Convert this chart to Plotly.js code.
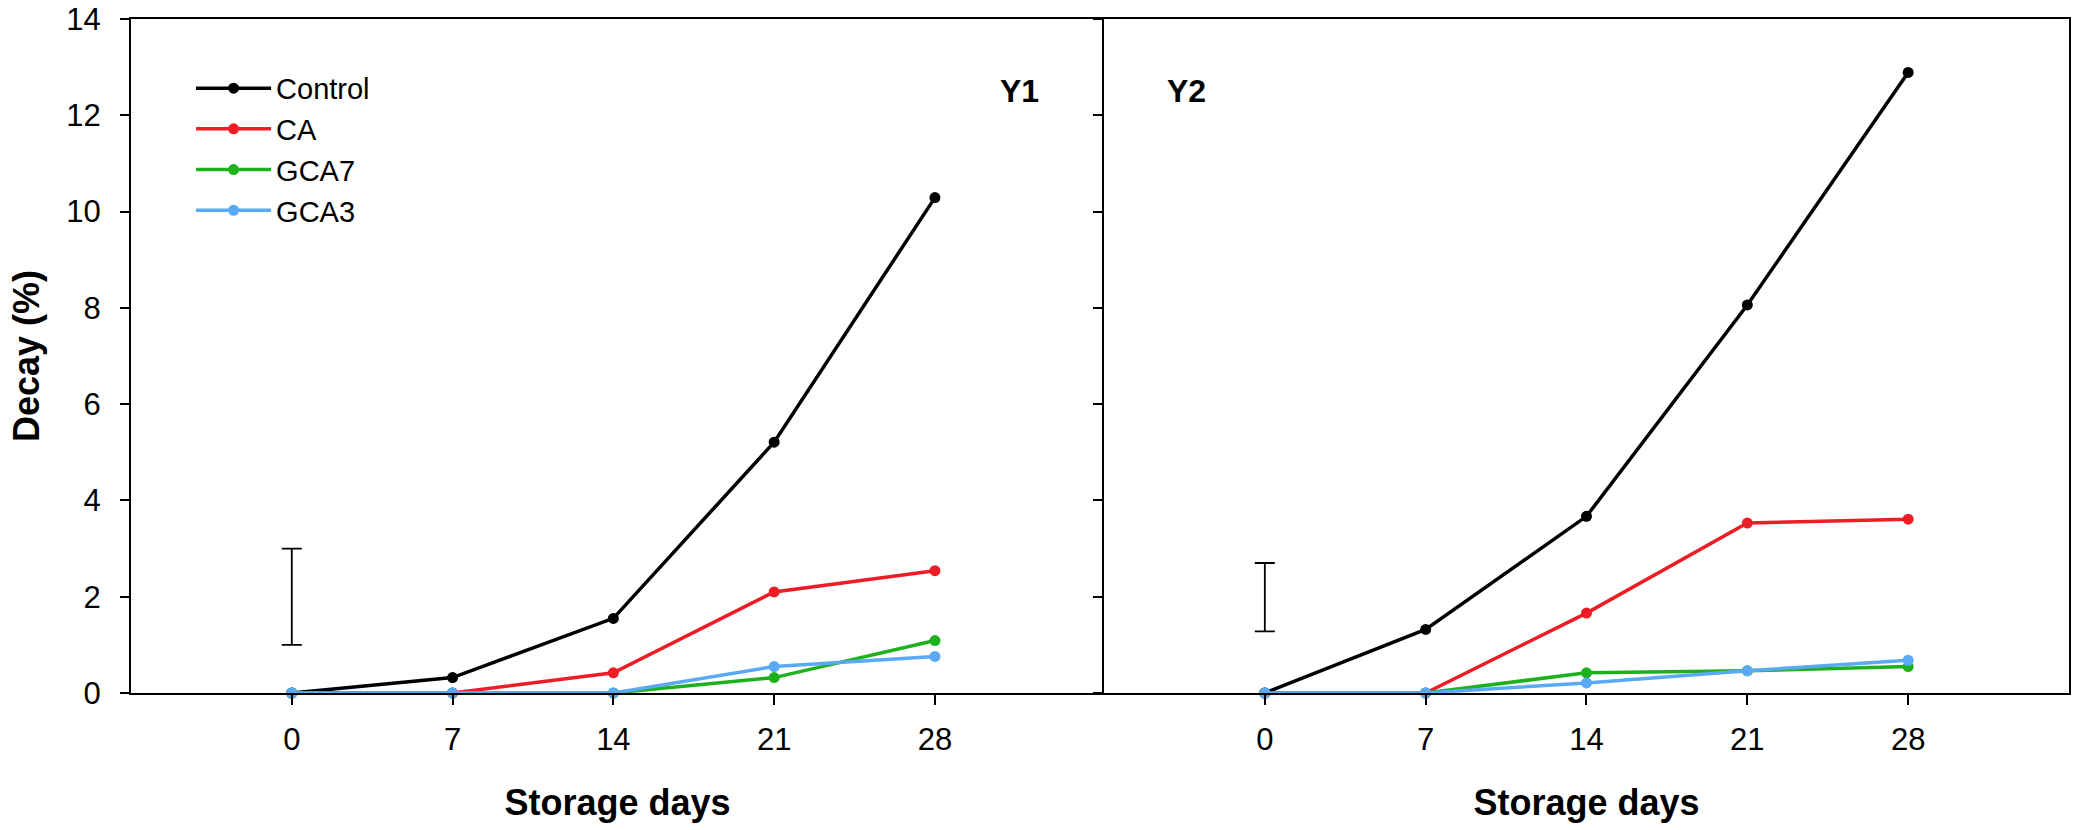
<!DOCTYPE html>
<html>
<head>
<meta charset="utf-8">
<script src="https://cdn.plot.ly/plotly-3.0.1.min.js"></script>
<style>
  html, body { margin: 0; padding: 0; background: #ffffff; }
  #chart { width: 2078px; height: 830px; }
</style>
</head>
<body>
<div id="chart"></div>
<script>
// ---- data ----
const days = [0, 7, 14, 21, 28];
const seriesNames = ["Control", "CA", "GCA7", "GCA3"];
const seriesColors = ["#000000", "#ee1c24", "#1db21d", "#5aa9f4"];

// Y1
const y1Control = [0, 0.32, 1.55, 5.21, 10.29];
const y1CA = [0, 0, 0.42, 2.10, 2.54];
const y1GCA7 = [0, 0, 0, 0.32, 1.09];
const y1GCA3 = [0, 0, 0, 0.55, 0.76];

// Y2
const y2Control = [0, 1.32, 3.67, 8.06, 12.89];
const y2CA = [0, 0, 1.66, 3.53, 3.61];
const y2GCA7 = [0, 0, 0.42, 0.46, 0.55];
const y2GCA3 = [0, 0, 0.21, 0.46, 0.68];

// LSD bars drawn at day 0
const lsdX = [0];
const y1LsdMid = [2.0];
const y1LsdHalf = [1.0];
const y2LsdMid = [1.99];
const y2LsdHalf = [0.71];

const yTicks = [0, 2, 4, 6, 8, 10, 12, 14];

// ---- traces ----
function line(x, y, i, xa, ya, legend) {
  return {
    type: "scatter",
    mode: "lines+markers",
    name: seriesNames[i],
    x: x,
    y: y,
    xaxis: xa,
    yaxis: ya,
    line: { color: seriesColors[i], width: 3.5 },
    marker: { color: seriesColors[i], size: 11 },
    showlegend: legend,
    cliponaxis: false
  };
}

function lsd(mid, half, xa, ya) {
  return {
    type: "scatter",
    mode: "markers",
    x: lsdX,
    y: mid,
    xaxis: xa,
    yaxis: ya,
    marker: { size: 1, opacity: 0 },
    error_y: { type: "data", array: half, visible: true, color: "#000000", thickness: 1.8, width: 10 },
    showlegend: false,
    hoverinfo: "skip"
  };
}

const y1Data = [y1Control, y1CA, y1GCA7, y1GCA3];
const y2Data = [y2Control, y2CA, y2GCA7, y2GCA3];

const traces = [lsd(y1LsdMid, y1LsdHalf, "x", "y"), lsd(y2LsdMid, y2LsdHalf, "x2", "y2")];
y1Data.forEach((y, i) => traces.push(line(days, y, i, "x", "y", true)));
y2Data.forEach((y, i) => traces.push(line(days, y, i, "x2", "y2", false)));

// ---- layout ----
const fam = "Liberation Sans, Arial, sans-serif";
const tickFont = { family: fam, size: 31, color: "#000000" };
const titleFont = { family: fam, size: 36, color: "#000000", weight: "bold" };

const xBase = {
  range: [-7, 35],
  tickvals: days,
  ticks: "outside",
  ticklen: 10,
  tickwidth: 2,
  tickcolor: "#000000",
  ticklabelstandoff: 8,
  showline: true,
  linecolor: "#000000",
  linewidth: 2,
  mirror: true,
  showgrid: false,
  zeroline: false,
  tickfont: tickFont,
  title: { text: "<b>Storage days</b>", font: titleFont, standoff: 34 }
};

const yBase = {
  range: [0, 14],
  tickvals: yTicks,
  ticks: "outside",
  ticklen: 9,
  tickwidth: 2,
  tickcolor: "#000000",
  showline: true,
  linecolor: "#000000",
  linewidth: 2,
  showgrid: false,
  zeroline: false,
  tickfont: tickFont
};

const layout = {
  width: 2078,
  height: 830,
  margin: { l: 131, r: 9, t: 19, b: 137 },
  paper_bgcolor: "#ffffff",
  plot_bgcolor: "#ffffff",
  font: tickFont,
  showlegend: true,
  xaxis: Object.assign({}, xBase, { domain: [0, 0.50206], range: [-7, 35.36], anchor: "y" }),
  yaxis: Object.assign({}, yBase, {
    domain: [0, 1], anchor: "x", mirror: false, ticklabelstandoff: 13,
    title: { text: "<b>Decay (%)</b>", font: titleFont, standoff: 16 }
  }),
  xaxis2: Object.assign({}, xBase, { domain: [0.50206, 1], anchor: "y2" }),
  yaxis2: Object.assign({}, yBase, { domain: [0, 1], anchor: "x2", mirror: true, showticklabels: false }),
  legend: {
    x: 0.031, y: 0.935, xanchor: "left", yanchor: "top",
    bgcolor: "rgba(0,0,0,0)",
    font: { family: fam, size: 29, color: "#000000" },
    itemwidth: 75,
    tracegroupgap: 0
  },
  annotations: [
    { text: "<b>Y1</b>", xref: "paper", yref: "paper", x: 0.4698, y: 0.8935, xanchor: "right", yanchor: "middle",
      showarrow: false, font: { family: fam, size: 32, color: "#000000" } },
    { text: "<b>Y2</b>", xref: "paper", yref: "paper", x: 0.5335, y: 0.8935, xanchor: "left", yanchor: "middle",
      showarrow: false, font: { family: fam, size: 32, color: "#000000" } }
  ]
};

Plotly.newPlot("chart", traces, layout, { displayModeBar: false, staticPlot: true });
</script>
</body>
</html>
